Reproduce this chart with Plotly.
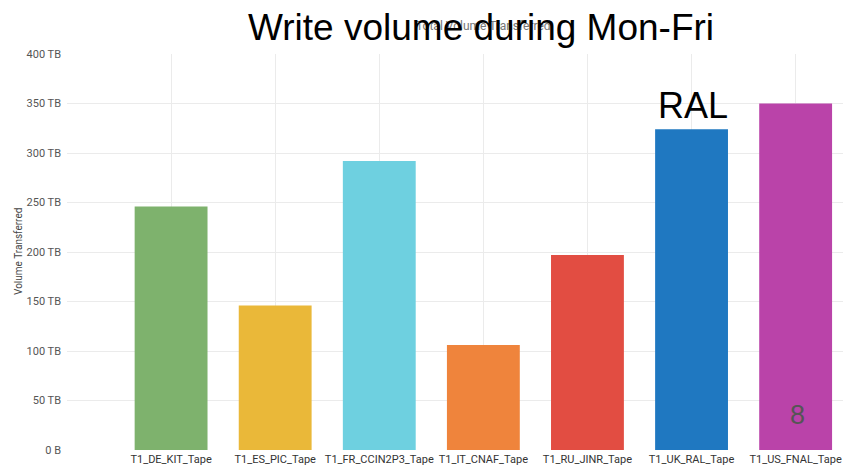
import plotly.graph_objects as go

categories = ["T1_DE_KIT_Tape", "T1_ES_PIC_Tape", "T1_FR_CCIN2P3_Tape", "T1_IT_CNAF_Tape",
              "T1_RU_JINR_Tape", "T1_UK_RAL_Tape", "T1_US_FNAL_Tape"]
volumes_tb = [246, 146, 292, 106, 197, 324, 350]
colors = ["#7EB26D", "#EAB839", "#6ED0E0", "#EF843C", "#E24D42", "#1F78C1", "#BA43A9"]
ytick_vals = [0, 50, 100, 150, 200, 250, 300, 350, 400]
ytick_text = ["0 B", "50 TB", "100 TB", "150 TB", "200 TB", "250 TB", "300 TB", "350 TB", "400 TB"]

W, H = 843, 466
ML, MR, MT, MB = 67, 0, 54, 16
PW, PH = W - ML - MR, H - MT - MB

def px_x(x):
    return (x - ML) / PW

def px_y(y):
    return (H - MB - y) / PH

fig = go.Figure()
fig.add_trace(go.Bar(
    x=categories, y=volumes_tb, marker=dict(color=colors, line=dict(width=0)),
    width=0.70, showlegend=False,
))

fig.update_layout(
    width=W, height=H,
    margin=dict(l=ML, r=MR, t=MT, b=MB, autoexpand=False),
    paper_bgcolor="white", plot_bgcolor="white",
    font=dict(family="Roboto, Arial, sans-serif"),
    xaxis=dict(
        type="category", range=[-1, 6.455], showgrid=True, gridcolor="#ebebeb",
        zeroline=False, showline=False, ticks="", automargin=False,
        ticklabelstandoff=1,
        tickfont=dict(size=11, color="#333333"),
    ),
    yaxis=dict(
        range=[0, 400], tickvals=ytick_vals, ticktext=ytick_text,
        showgrid=True, gridcolor="#ebebeb", zeroline=False, showline=False,
        ticks="", automargin=False, ticklabelstandoff=5,
        tickfont=dict(size=11, color="#555555"),
    ),
    bargap=0.3,
)

def note(text, x, y, size, color, family, angle=0):
    fig.add_annotation(text=text, textangle=angle, xref="paper", yref="paper",
                       x=px_x(x), y=px_y(y), xanchor="center", yanchor="middle",
                       showarrow=False, font=dict(size=size, color=color, family=family))

note("Volume Transferred", 18, 252, 10, "#444444", "Roboto, Arial, sans-serif", angle=-90)
note("Total Volume Transferred", 483, 26, 12, "#777777", "Roboto, Arial, sans-serif")
note("Write volume during Mon-Fri", 481, 27, 37, "#000000", "Liberation Sans, Arial, sans-serif")
note("RAL", 693, 105, 36, "#000000", "Liberation Sans, Arial, sans-serif")
note("8", 797, 415, 27, "#555555", "Liberation Sans, Arial, sans-serif")

fig.write_html("out.html")
